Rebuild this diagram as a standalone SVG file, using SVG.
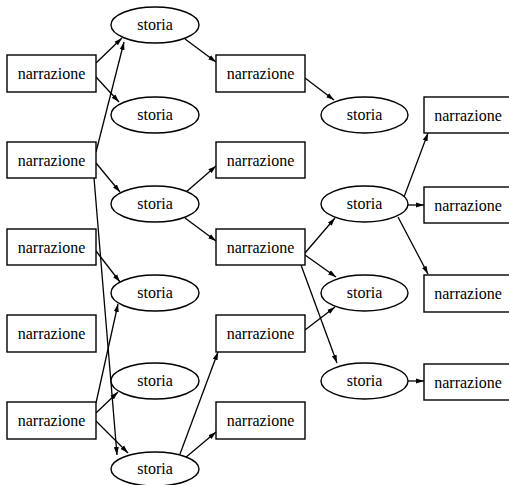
<svg xmlns="http://www.w3.org/2000/svg" width="509" height="485" viewBox="0 0 509 485">
<style>
.n{fill:#fff;stroke:#000;stroke-width:1.4}
text{font-size:16px;text-anchor:middle;fill:#000}
#edges line{stroke:#000;stroke-width:1.3;marker-end:url(#ah)}
</style>
<defs>
<marker id="ah" markerUnits="userSpaceOnUse" markerWidth="9" markerHeight="6" refX="8" refY="3" orient="auto">
<path d="M0,0.5 L8,3 L0,5.5 z" fill="#000"/>
</marker>
</defs>
<rect width="509" height="485" fill="#fff"/>
<g id="edges">
<line x1="96" y1="63" x2="122" y2="38"/>
<line x1="96" y1="77" x2="119" y2="102"/>
<line x1="96" y1="152" x2="124" y2="42"/>
<line x1="96" y1="163" x2="120" y2="192"/>
<line x1="94" y1="178" x2="117" y2="455"/>
<line x1="96" y1="251" x2="120" y2="282"/>
<line x1="96" y1="403" x2="118" y2="304"/>
<line x1="96" y1="413" x2="118" y2="392"/>
<line x1="96" y1="421" x2="128" y2="453"/>
<line x1="185" y1="39" x2="216" y2="62"/>
<line x1="185" y1="193" x2="216" y2="166"/>
<line x1="185" y1="218" x2="216" y2="241"/>
<line x1="180" y1="454" x2="218" y2="352"/>
<line x1="185" y1="458" x2="216" y2="432"/>
<line x1="305" y1="78" x2="334" y2="100"/>
<line x1="305" y1="253" x2="335" y2="218"/>
<line x1="305" y1="255" x2="336" y2="277"/>
<line x1="301" y1="265" x2="337" y2="363"/>
<line x1="305" y1="330" x2="335" y2="307"/>
<line x1="404" y1="197" x2="428" y2="133"/>
<line x1="408" y1="205" x2="424" y2="205"/>
<line x1="398" y1="217" x2="428" y2="274"/>
<line x1="408" y1="381" x2="424" y2="381"/>
</g>
<g font-family="Liberation Serif, serif">
<g id="L1"><rect class="n" x="7" y="55" width="89" height="37"/><text x="51.5" y="79">narrazione</text></g>
<g id="L2"><rect class="n" x="7" y="142" width="89" height="36"/><text x="51.5" y="166">narrazione</text></g>
<g id="L3"><rect class="n" x="7" y="229" width="89" height="36"/><text x="51.5" y="253">narrazione</text></g>
<g id="L4"><rect class="n" x="7" y="315" width="89" height="37"/><text x="51.5" y="339">narrazione</text></g>
<g id="L5"><rect class="n" x="7" y="402" width="89" height="37"/><text x="51.5" y="426">narrazione</text></g>
<g id="E1"><ellipse class="n" cx="155" cy="25" rx="44" ry="18"/><text x="155" y="30">storia</text></g>
<g id="E2"><ellipse class="n" cx="155" cy="115" rx="44" ry="18"/><text x="155" y="120">storia</text></g>
<g id="E3"><ellipse class="n" cx="155" cy="204" rx="44" ry="18"/><text x="155" y="209">storia</text></g>
<g id="E4"><ellipse class="n" cx="155" cy="293" rx="44" ry="18"/><text x="155" y="298">storia</text></g>
<g id="E5"><ellipse class="n" cx="155" cy="381" rx="44" ry="18"/><text x="155" y="386">storia</text></g>
<g id="E6"><ellipse class="n" cx="155" cy="469" rx="44" ry="17"/><text x="155" y="474">storia</text></g>
<g id="B1"><rect class="n" x="216" y="55" width="89" height="37"/><text x="260.5" y="79">narrazione</text></g>
<g id="B2"><rect class="n" x="216" y="142" width="89" height="36"/><text x="260.5" y="166">narrazione</text></g>
<g id="B3"><rect class="n" x="216" y="229" width="89" height="36"/><text x="260.5" y="253">narrazione</text></g>
<g id="B4"><rect class="n" x="216" y="315" width="89" height="37"/><text x="260.5" y="339">narrazione</text></g>
<g id="B5"><rect class="n" x="216" y="402" width="89" height="37"/><text x="260.5" y="426">narrazione</text></g>
<g id="F1"><ellipse class="n" cx="364.5" cy="115" rx="43.5" ry="18"/><text x="364.5" y="120">storia</text></g>
<g id="F2"><ellipse class="n" cx="364.5" cy="204" rx="43.5" ry="18"/><text x="364.5" y="209">storia</text></g>
<g id="F3"><ellipse class="n" cx="364.5" cy="293" rx="43.5" ry="18"/><text x="364.5" y="298">storia</text></g>
<g id="F4"><ellipse class="n" cx="364.5" cy="381" rx="43.5" ry="18"/><text x="364.5" y="386">storia</text></g>
<g id="R1"><rect class="n" x="424" y="97" width="89" height="36"/><text x="468" y="121">narrazione</text></g>
<g id="R2"><rect class="n" x="424" y="187" width="89" height="36"/><text x="468" y="211">narrazione</text></g>
<g id="R3"><rect class="n" x="424" y="275" width="89" height="37"/><text x="468" y="299">narrazione</text></g>
<g id="R4"><rect class="n" x="424" y="364" width="89" height="36"/><text x="468" y="388">narrazione</text></g>
</g>
</svg>
